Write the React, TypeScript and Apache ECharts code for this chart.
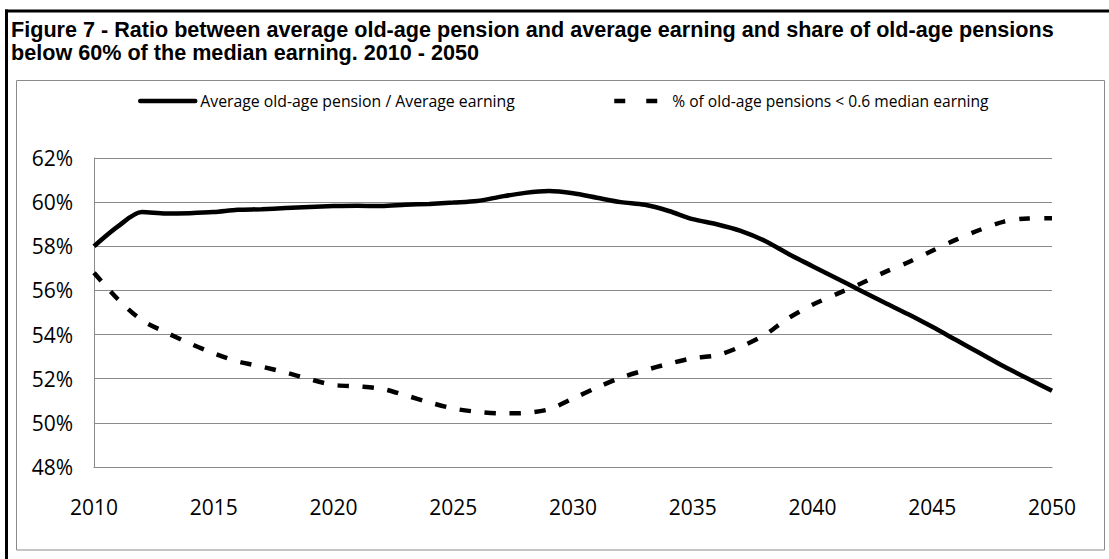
import React, { useEffect, useRef } from "react";
import * as echarts from "echarts";

const titleText =
  "Figure 7 - Ratio between average old-age pension and average earning and share of old-age pensions\nbelow 60% of the median earning. 2010 - 2050";

const seriesNames = [
  "Average old-age pension / Average earning",
  "% of old-age pensions < 0.6 median earning",
];

const years = [
  2010, 2011, 2012, 2013, 2014, 2015, 2016, 2017, 2018, 2019, 2020, 2021, 2022,
  2023, 2024, 2025, 2026, 2027, 2028, 2029, 2030, 2031, 2032, 2033, 2034, 2035,
  2036, 2037, 2038, 2039, 2040, 2041, 2042, 2043, 2044, 2045, 2046, 2047, 2048,
  2049, 2050,
];

const pensionRatio = [
  58.0, 58.9, 59.55, 59.48, 59.5, 59.55, 59.65, 59.68, 59.73, 59.78, 59.82,
  59.84, 59.82, 59.88, 59.92, 59.98, 60.05, 60.25, 60.42, 60.5, 60.4, 60.2,
  60.0, 59.88, 59.6, 59.23, 59.0, 58.7, 58.25, 57.65, 57.1, 56.55, 56.0, 55.45,
  54.92, 54.35, 53.75, 53.15, 52.55, 52.0, 51.45,
];

const shareBelow = [
  56.8, 55.6, 54.65, 54.1, 53.6, 53.15, 52.78, 52.55, 52.28, 51.98, 51.72,
  51.65, 51.55, 51.25, 50.93, 50.65, 50.5, 50.43, 50.45, 50.62, 51.1, 51.6,
  52.05, 52.38, 52.68, 52.93, 53.06, 53.45, 53.98, 54.75, 55.35, 55.83, 56.3,
  56.82, 57.28, 57.8, 58.3, 58.75, 59.12, 59.26, 59.27,
];

const yMin = 48;
const yMax = 62;
const yStep = 2;
const xMin = 2010;
const xMax = 2050;
const xStep = 5;

export default function App() {
  const ref = useRef<HTMLDivElement>(null);

  useEffect(() => {
    if (!ref.current) return;
    const chart = echarts.init(ref.current, undefined, { renderer: "svg" });
    const font = "'Open Sans', sans-serif";
    const grey = "#8a8a8a";
    chart.setOption({
      animation: false,
      backgroundColor: "#ffffff",
      title: {
        text: titleText,
        left: 11,
        top: 18,
        padding: 0,
        textStyle: {
          fontFamily: "'Liberation Sans', Arial, sans-serif",
          fontWeight: "bold",
          fontSize: 21.6,
          lineHeight: 23,
          color: "#000",
        },
      },
      graphic: [
        {
          type: "rect",
          shape: { x: 5, y: 9.5, width: 1104, height: 3 },
          style: { fill: "#000" },
          silent: true,
        },
        {
          type: "rect",
          shape: { x: 5, y: 9.5, width: 3, height: 550 },
          style: { fill: "#000" },
          silent: true,
        },
        {
          type: "rect",
          shape: { x: 16.5, y: 80.5, width: 1088, height: 469.5 },
          style: { fill: "none", stroke: grey, lineWidth: 1 },
          silent: true,
        },
      ],
      legend: [
        {
          data: [seriesNames[0]],
          left: 138,
          top: 93,
          padding: 0,
          itemWidth: 55,
          itemHeight: 18,
          textStyle: { fontFamily: font, fontSize: 15.8, color: "#000" },
          itemStyle: { opacity: 0 },
          lineStyle: { width: 4.5, cap: "round" },
        },
        {
          data: [seriesNames[1]],
          left: 612,
          top: 93,
          padding: 0,
          itemWidth: 53,
          itemHeight: 18,
          textStyle: { fontFamily: font, fontSize: 15.6, color: "#000" },
          itemStyle: { opacity: 0 },
          lineStyle: { width: 4.5, type: [11, 21], cap: "butt" },
        },
      ],
      grid: {
        left: 94,
        right: 57,
        top: 158,
        bottom: 92,
        containLabel: false,
      },
      xAxis: {
        type: "value",
        min: xMin,
        max: xMax,
        interval: xStep,
        axisLine: { show: true, lineStyle: { color: grey, width: 1 } },
        axisTick: { show: false },
        splitLine: { show: false },
        axisLabel: {
          formatter: (v: number) => String(v),
          fontFamily: font,
          fontSize: 21,
          color: "#000",
          margin: 29,
        },
      },
      yAxis: {
        type: "value",
        min: yMin,
        max: yMax,
        interval: yStep,
        axisLine: { show: true, lineStyle: { color: grey, width: 1 } },
        axisTick: { show: false },
        splitLine: { show: true, lineStyle: { color: grey, width: 1 } },
        axisLabel: {
          formatter: "{value}%",
          fontFamily: font,
          fontSize: 21,
          color: "#000",
          margin: 21,
        },
      },
      series: [
        {
          name: seriesNames[0],
          type: "line",
          data: years.map((y, i) => [y, pensionRatio[i]]),
          smooth: 0.3,
          symbol: "none",
          lineStyle: { color: "#000", width: 4.5 },
          itemStyle: { color: "#000" },
        },
        {
          name: seriesNames[1],
          type: "line",
          data: years.map((y, i) => [y, shareBelow[i]]),
          smooth: 0.3,
          symbol: "none",
          lineStyle: { color: "#000", width: 4.5, type: [11, 14], cap: "butt" },
          itemStyle: { color: "#000" },
        },
      ],
    });
    return () => chart.dispose();
  }, []);

  return (
    <div
      ref={ref}
      style={{
        position: "fixed",
        left: 0,
        top: 0,
        width: 1109,
        height: 559,
        background: "#fff",
      }}
    />
  );
}
